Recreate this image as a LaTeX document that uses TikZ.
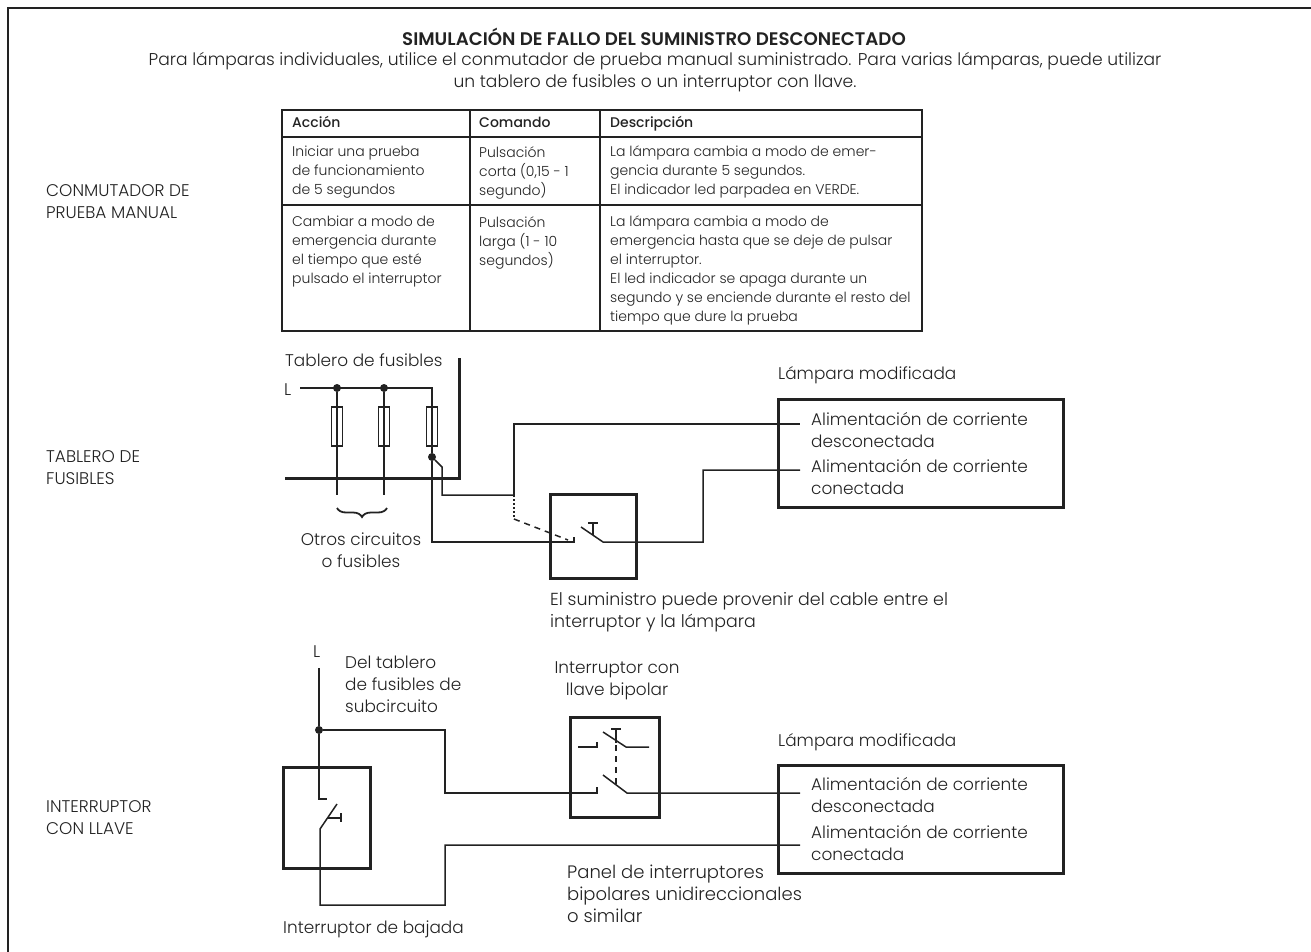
\documentclass[tikz,border=0pt]{standalone}
\usepackage{fontspec}
\setmainfont{Poppins}[UprightFont=* Light,BoldFont=* SemiBold]
\newfontfamily\medfont{Poppins Medium}
\usetikzlibrary{decorations.pathreplacing}
\definecolor{ink}{HTML}{222222}
\tikzset{
  txt/.style={anchor=west,align=left,inner sep=0pt,text=ink,font=\fontsize{16.9}{22}\selectfont},
  tabtxt/.style={anchor=north west,align=left,inner sep=0pt,text=ink,font=\fontsize{14}{19}\selectfont},
  head/.style={tabtxt,font=\fontsize{14}{19}\medfont,text height=12pt,text depth=4pt},
  wire/.style={draw=ink,line width=1.5pt},
  rule/.style={draw=ink,line width=1.6pt},
  heavy/.style={draw=ink,line width=3pt},
  fuse/.style={draw=ink,line width=1.2pt,fill=white,minimum width=11pt,minimum height=39pt,inner sep=0pt},
  dot/.style={circle,fill=ink,inner sep=0pt,minimum size=8pt},
}
\begin{document}
\begin{tikzpicture}[x=1pt,y=-1pt]
\useasboundingbox (0,0) rectangle (1311,952);
\draw[rule,line width=2pt](8,952)--(8,8)--(1311,8);
\node[txt,anchor=center,font=\fontsize{18.2}{22}\bfseries] (title) at (654,37) {SIMULACIÓN DE FALLO DEL SUMINISTRO DESCONECTADO};
\node[txt,anchor=center,align=center,font=\fontsize{17.1}{22}\selectfont] (intro) at (655,72) {Para lámparas individuales, utilice el conmutador de prueba manual suministrado. Para varias lámparas, puede utilizar\\un tablero de fusibles o un interruptor con llave.};
\node[txt] (manual) at (46,202) {CONMUTADOR DE\\PRUEBA MANUAL};
\node[txt] (board) at (46,468) {TABLERO DE\\FUSIBLES};
\node[txt] (keysw) at (46,818) {INTERRUPTOR\\CON LLAVE};
% tabla
\draw[rule](282,110)rectangle(922,331);
\draw[rule](282,137)--(922,137);
\draw[rule](282,205)--(922,205);
\draw[rule](470,110)--(470,331);
\draw[rule](600,110)--(600,331);
\node[head] (h1) at (292,115) {Acción};
\node[head] (h2) at (479,115) {Comando};
\node[head] (h3) at (610,115) {Descripción};
\node[tabtxt] (a1) at (292,146) {Iniciar una prueba\\de funcionamiento\\de 5 segundos};
\node[tabtxt] (c1) at (479,146) {Pulsación\\corta (0,15 - 1\\segundo)};
\node[tabtxt] (d1) at (610,146) {La lámpara cambia a modo de emer-\\gencia durante 5 segundos.\\El indicador led parpadea en VERDE.};
\node[tabtxt] (a2) at (292,216) {Cambiar a modo de\\emergencia durante\\el tiempo que esté\\pulsado el interruptor};
\node[tabtxt] (c2) at (479,216) {Pulsación\\larga (1 - 10\\segundos)};
\node[tabtxt] (d2) at (610,216) {La lámpara cambia a modo de\\emergencia hasta que se deje de pulsar\\el interruptor.\\El led indicador se apaga durante un\\segundo y se enciende durante el resto del\\tiempo que dure la prueba};
% tablero de fusibles
\node[txt] (tablero) at (285,360) {Tablero de fusibles};
\node[txt] (lineA) at (284,390) {L};
\node[dot] (j1) at (337,388) {};
\node[dot] (j2) at (384,388) {};
\node[dot] (j3) at (432,457) {};
\coordinate (busA) at (300,388);
\coordinate (busB) at (432,388);
\coordinate (endA) at (337,495);
\coordinate (endB) at (384,495);
\coordinate (bend) at (442,467);
\coordinate (feedA) at (514,495);
\coordinate (feedB) at (514,519);
\draw[heavy](459,358)--(459,478)--(285,478);
\draw[wire](busA)--(busB)--(j3);
\draw[wire](j1)--(endA);
\draw[wire](j2)--(endB);
\foreach \x/\n in {337/fa,384/fb,432/fc}{
\node[fuse] (\n) at (\x,426.5) {};
\draw[wire](\n.north)--(\n.south);
}
\draw[wire](j3)--(bend)--(bend|-feedA)--(feedA);
\draw[wire](feedA)--(514,424)--(800,424);
\draw[wire,dash pattern=on 2pt off 2pt](feedA)--(feedB);
\draw[wire,dash pattern=on 6pt off 5pt](feedB)--(568,540);
\draw[decorate,decoration={brace,mirror,amplitude=9pt,aspect=.5},wire,line width=1.8pt](337,508)--(387,508);
\node[txt,anchor=center,align=center] (otros) at (361,550) {Otros circuitos\\o fusibles};
% interruptor
\node[heavy,minimum width=86pt,minimum height=84pt,inner sep=0pt] (swA) at (593,536) {};
\coordinate (swAin) at (574,542);
\coordinate (swAout) at (603,542);
\draw[wire](j3)--(432,542)--(swAin)--(574,537);
\draw[wire](581,527)--(swAout)--(703,542)--(703,470)--(800,470);
\draw[wire](588,523)--(598,523);
\draw[wire](593,523)--(593,535);
\node[txt,font=\fontsize{17.4}{22}\selectfont] (nota) at (550,612.5) {El suministro puede provenir del cable entre el\\interruptor y la lámpara};
% lampara 1
\node[txt] (lampA) at (778,375) {Lámpara modificada};
\node[heavy,minimum width=285pt,minimum height=108pt,inner sep=0pt] (boxA) at (920.5,453) {};
\node[txt] (a) at (811,430) {Alimentación de corriente\\desconectada};
\node[txt] (b) at (811,477) {Alimentación de corriente\\conectada};
% interruptor con llave
\node[txt] (lineB) at (313,652) {L};
\node[txt] (del) at (345,684.5) {Del tablero\\de fusibles de\\subcircuito};
\node[txt,anchor=center,align=center] (bipolar) at (617,680.5) {Interruptor con\\llave bipolar};
\node[dot] (j4) at (319,730) {};
\coordinate (lineTop) at (319,668);
\node[heavy,minimum width=87pt,minimum height=101pt,inner sep=0pt] (swB) at (326.5,817.5) {};
\node[heavy,minimum width=89pt,minimum height=100pt,inner sep=0pt] (swC) at (614.5,767) {};
\draw[wire](lineTop)--(j4)--(319,799)--(327,799);
\draw[wire](j4)--(445,730)--(445,793)--(597,793)--(597,787);
\draw[wire](603,775)--(627,793)--(800,793);
\draw[wire](578,747)--(597,747)--(597,742);
\draw[wire](603,732)--(626,747)--(649,747);
\draw[wire](611,729)--(621,729);
\draw[wire](616,729)--(616,743);
\draw[wire,dash pattern=on 6pt off 5pt](616,745)--(616,785);
\draw[wire](337,804)--(320,829)--(320,905)--(445,905)--(445,845)--(800,845);
\draw[wire](341,813)--(341,822);
\draw[wire](327,818)--(341,818);
\node[txt] (bajada) at (283,929) {Interruptor de bajada};
\node[txt,font=\fontsize{18}{22}\selectfont] (panel) at (567,894) {Panel de interruptores\\bipolares unidireccionales\\o similar};
\node[txt] (lampB) at (778,742) {Lámpara modificada};
\node[heavy,minimum width=285pt,minimum height=108pt,inner sep=0pt] (boxB) at (920.5,819) {};
\node[txt] (c) at (811,795.5) {Alimentación de corriente\\desconectada};
\node[txt] (d) at (811,843) {Alimentación de corriente\\conectada};
\end{tikzpicture}
\end{document}
